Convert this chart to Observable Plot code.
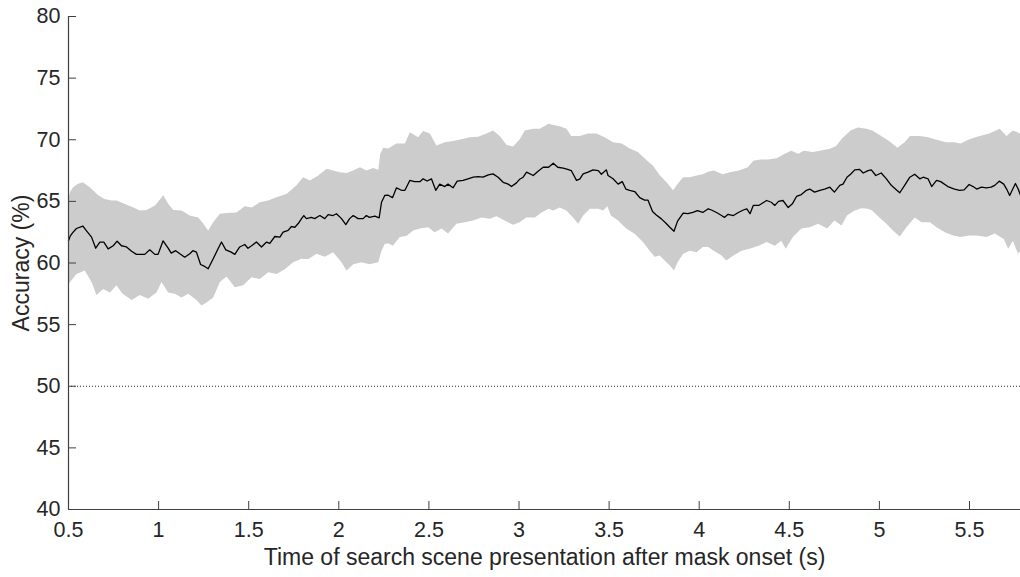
<!DOCTYPE html>
<html>
<head>
<meta charset="utf-8">
<script src="https://cdn.jsdelivr.net/npm/d3@7"></script>
<script src="https://cdn.jsdelivr.net/npm/@observablehq/plot@0.6"></script>
<style>
  html, body { margin: 0; padding: 0; background: #fff; }
  #chart svg { display: block; }
</style>
</head>
<body>
<div id="chart"></div>
<script>
const xTicks = [0.5, 1, 1.5, 2, 2.5, 3, 3.5, 4, 4.5, 5, 5.5];
const yTicks = [40, 45, 50, 55, 60, 65, 70, 75, 80];
const xLabel = "Time of search scene presentation after mask onset (s)";
const yLabel = "Accuracy (%)";
const chanceLevel = [50];

const meanT = [0.5,0.51,0.526,0.544,0.58,0.60,0.628,0.651,0.674,0.696,0.72,0.748,0.77,0.794,0.822,0.85,0.877,0.923,0.951,0.979,0.997,1.025,1.053,1.07,1.095,1.118,1.145,1.173,1.19,1.21,1.233,1.256,1.275,1.303,1.33,1.349,1.373,1.40,1.423,1.45,1.478,1.496,1.516,1.543,1.571,1.599,1.617,1.645,1.673,1.691,1.719,1.737,1.756,1.775,1.793,1.806,1.82,1.848,1.866,1.895,1.922,1.941,1.968,1.987,2.015,2.039,2.06,2.08,2.107,2.135,2.153,2.17,2.20,2.224,2.237,2.255,2.274,2.298,2.32,2.348,2.367,2.394,2.42,2.45,2.468,2.49,2.514,2.538,2.56,2.588,2.606,2.634,2.657,2.69,2.717,2.746,2.773,2.8,2.83,2.856,2.884,2.912,2.94,2.958,2.986,3.004,3.023,3.042,3.079,3.106,3.134,3.164,3.19,3.215,3.245,3.27,3.29,3.319,3.337,3.356,3.383,3.411,3.44,3.457,3.485,3.494,3.522,3.55,3.573,3.593,3.614,3.642,3.67,3.697,3.716,3.741,3.762,3.79,3.817,3.837,3.86,3.88,3.911,3.937,3.965,3.99,4.02,4.05,4.068,4.096,4.124,4.14,4.16,4.19,4.217,4.245,4.264,4.282,4.30,4.33,4.35,4.374,4.40,4.42,4.44,4.465,4.494,4.517,4.54,4.567,4.595,4.613,4.64,4.67,4.696,4.725,4.75,4.78,4.798,4.82,4.84,4.863,4.89,4.91,4.937,4.955,4.98,5.01,5.039,5.066,5.095,5.113,5.14,5.169,5.196,5.224,5.243,5.27,5.29,5.317,5.34,5.38,5.417,5.445,5.47,5.498,5.52,5.54,5.566,5.594,5.62,5.64,5.665,5.69,5.706,5.723,5.74,5.755,5.77,5.783];
const meanAcc = [61.8,62.2,62.5,62.8,63.0,62.6,62.1,61.2,61.7,61.7,61.15,61.4,61.77,61.4,61.3,60.96,60.7,60.7,61.07,60.7,60.7,61.8,61.2,60.8,61.0,60.75,60.47,60.75,61.0,60.88,59.88,59.72,59.53,60.34,61.15,61.7,61.07,60.9,60.7,61.3,61.5,61.2,61.4,61.7,61.3,61.7,61.6,62.15,62.1,62.5,62.64,62.96,62.9,63.2,63.6,63.85,63.6,63.7,63.6,63.85,63.6,63.93,63.85,64.0,63.6,63.12,63.6,63.85,63.6,63.6,63.85,63.7,63.8,63.67,64.93,65.48,65.5,65.3,66.1,65.9,65.9,66.7,66.6,66.6,66.83,66.65,66.83,65.9,66.4,66.2,66.4,66.1,66.64,66.7,66.83,66.96,67.0,66.96,67.15,67.23,66.96,66.55,66.4,66.2,66.5,66.8,66.96,67.37,67.1,67.45,67.77,67.77,68.1,67.77,67.7,67.6,67.5,66.7,66.8,67.23,67.37,67.56,67.5,67.2,67.56,67.1,66.83,66.4,66.6,66.0,65.9,65.8,65.3,65.1,65.1,64.18,63.9,63.58,63.2,62.9,62.58,63.4,64.04,64.0,64.1,64.25,64.1,64.4,64.3,64.1,63.85,63.7,63.95,63.85,64.1,64.3,64.4,64.0,64.67,64.67,64.85,65.07,64.93,64.67,65.0,65.07,64.5,64.8,65.4,65.55,65.9,66.0,65.75,65.9,66.0,66.15,65.75,66.3,66.4,66.96,67.2,67.56,67.6,67.3,67.5,67.56,67.1,67.3,66.83,66.3,65.93,65.7,66.3,66.96,67.2,66.83,66.96,66.83,66.2,66.7,66.6,66.2,66.0,65.9,65.93,66.37,66.2,66.0,66.15,66.1,66.15,66.3,66.64,66.4,66.0,65.48,66.0,66.45,66.0,65.5];

const upperT = [0.5,0.51,0.526,0.55,0.58,0.618,0.665,0.70,0.739,0.766,0.81,0.86,0.896,0.933,0.98,1.026,1.053,1.081,1.127,1.173,1.22,1.247,1.275,1.303,1.34,1.377,1.432,1.478,1.516,1.562,1.608,1.654,1.71,1.765,1.802,1.84,1.886,1.932,1.968,2.006,2.043,2.08,2.117,2.153,2.19,2.219,2.23,2.246,2.274,2.32,2.367,2.394,2.44,2.468,2.505,2.542,2.588,2.634,2.68,2.727,2.773,2.82,2.856,2.893,2.93,2.967,3.004,3.032,3.079,3.115,3.164,3.19,3.226,3.263,3.29,3.337,3.383,3.43,3.475,3.522,3.57,3.614,3.66,3.707,3.744,3.78,3.818,3.855,3.88,3.911,3.948,3.985,4.02,4.05,4.08,4.13,4.17,4.22,4.27,4.30,4.34,4.38,4.43,4.475,4.51,4.55,4.58,4.63,4.67,4.725,4.76,4.79,4.84,4.88,4.928,4.96,5.01,5.054,5.1,5.14,5.17,5.224,5.27,5.317,5.37,5.417,5.45,5.5,5.556,5.61,5.668,5.705,5.74,5.783];
const upperAcc = [65.3,65.8,66.15,66.4,66.55,66.15,65.5,65.2,65.07,65.07,64.8,64.5,64.26,64.3,64.67,65.5,64.8,64.3,64.26,63.85,63.7,63.2,62.64,63.3,64.0,64.05,64.1,64.6,64.5,64.93,65.07,65.34,65.6,66.3,66.96,66.7,67.1,67.64,67.5,67.37,67.3,67.5,67.77,67.5,67.7,67.56,68.86,69.35,69.3,69.7,69.7,70.6,70.2,70.7,70.5,69.53,69.8,69.9,70.05,70.2,70.25,70.5,70.75,70.3,69.6,69.45,70.05,70.75,70.9,70.9,71.3,71.2,71.1,70.9,70.3,70.3,70.5,70.5,70.2,69.8,69.7,69.3,69.0,68.35,67.9,67.15,66.55,65.9,66.4,66.96,66.96,67.1,67.2,67.4,67.5,67.2,67.37,67.5,67.77,68.3,68.4,68.4,68.5,68.86,69.1,68.86,69.1,69.0,69.1,69.26,69.5,70.07,70.75,71.0,70.9,70.75,70.3,69.9,69.35,69.8,70.3,70.3,70.2,70.0,69.8,69.8,69.7,70.05,70.3,70.5,70.9,70.3,70.75,70.5];

const lowerT = [0.5,0.544,0.59,0.628,0.655,0.692,0.73,0.766,0.80,0.85,0.896,0.942,0.988,1.016,1.053,1.09,1.127,1.164,1.21,1.238,1.266,1.303,1.34,1.377,1.423,1.469,1.516,1.562,1.608,1.654,1.70,1.747,1.793,1.83,1.876,1.922,1.968,2.015,2.043,2.08,2.126,2.17,2.219,2.237,2.255,2.274,2.30,2.338,2.375,2.413,2.45,2.495,2.533,2.57,2.606,2.653,2.699,2.745,2.792,2.838,2.875,2.921,2.967,3.004,3.04,3.088,3.125,3.164,3.19,3.226,3.263,3.30,3.328,3.356,3.393,3.44,3.467,3.49,3.51,3.55,3.595,3.642,3.688,3.725,3.753,3.78,3.808,3.837,3.86,3.88,3.911,3.948,3.985,4.02,4.05,4.08,4.124,4.15,4.19,4.235,4.28,4.33,4.374,4.42,4.455,4.48,4.52,4.567,4.613,4.66,4.71,4.75,4.79,4.82,4.863,4.90,4.937,4.96,5.0,5.039,5.075,5.113,5.15,5.196,5.233,5.28,5.317,5.363,5.41,5.45,5.5,5.54,5.594,5.64,5.69,5.715,5.74,5.77,5.783];
const lowerAcc = [58.3,59.1,59.4,58.45,57.4,57.9,57.6,58.2,57.5,57.0,57.4,57.1,57.6,58.45,57.6,57.5,57.2,57.5,57.0,56.55,56.8,57.2,58.45,58.9,58.04,58.2,58.85,58.7,59.25,59.1,59.5,60.07,60.34,60.3,60.75,60.5,60.88,60.07,59.4,59.9,60.07,59.9,60.07,61.0,61.55,61.6,61.4,62.1,62.2,62.64,62.8,62.9,62.5,62.8,62.4,63.18,63.3,63.45,63.7,63.6,63.8,63.45,63.1,63.3,63.7,63.7,64.1,64.4,64.25,64.5,64.25,63.7,63.18,63.85,64.4,64.4,64.25,64.6,63.85,63.45,62.8,62.37,61.7,61.0,60.5,60.6,60.2,59.8,59.4,60.07,60.75,61.0,60.88,61.3,61.3,61.0,60.6,60.2,60.6,61.0,61.15,61.4,61.7,61.4,61.8,61.15,62.1,62.8,62.9,63.18,62.8,63.45,63.05,63.85,64.25,64.45,64.4,64.25,63.7,63.18,62.64,62.15,62.9,63.7,63.3,63.3,62.9,62.5,62.24,62.1,62.24,62.24,62.1,62.4,61.95,61.15,61.8,60.75,61.0];

const meanData = meanT.map((t, i) => ({t, acc: meanAcc[i]}));
const bandPoly = [
  ...upperT.map((t, i) => ({t, acc: upperAcc[i]})),
  ...lowerT.map((t, i) => ({t, acc: lowerAcc[i]})).reverse()
];

const W = 1020, H = 577;
const mL = 68, mR = 0, mT = 16, mB = 68;
const innerW = W - mL - mR, innerH = H - mT - mB;
const tickLen = 8;
const axisColor = "#404040";
const textColor = "#262626";

const chart = Plot.plot({
  width: W,
  height: H,
  marginLeft: mL,
  marginRight: mR,
  marginTop: mT,
  marginBottom: mB,
  style: {fontFamily: "'Liberation Sans', Arial, Helvetica, sans-serif", color: textColor, background: "#fff"},
  x: {domain: [0.5, 5.783], label: null},
  y: {domain: [40, 80], label: null},
  marks: [
    Plot.line(bandPoly, {x: "t", y: "acc", fill: "#cccccc", stroke: "none", curve: "linear"}),
    Plot.ruleY(chanceLevel, {stroke: "#222", strokeWidth: 1, strokeDasharray: "1,2"}),
    Plot.line(meanData, {x: "t", y: "acc", stroke: "#000", strokeWidth: 1.3}),
    // inward ticks
    Plot.ruleX(xTicks, {x: d => d, stroke: axisColor, strokeWidth: 1, insetTop: innerH - tickLen}),
    Plot.ruleY(yTicks, {y: d => d, stroke: axisColor, strokeWidth: 1, insetRight: innerW - tickLen}),
    // axis lines
    Plot.ruleX([0.5], {stroke: axisColor, strokeWidth: 1.2}),
    Plot.ruleY([40], {stroke: axisColor, strokeWidth: 1.2}),
    Plot.axisX({ticks: xTicks, tickSize: 0, tickPadding: 12, fontSize: 21.5, tickFormat: d => String(d), label: null, fill: textColor}),
    Plot.axisY({ticks: yTicks, tickSize: 0, tickPadding: 8, fontSize: 21.5, tickFormat: d => String(d), label: null, fill: textColor}),
    Plot.text([xLabel], {text: d => d, frameAnchor: "bottom", dy: 48, fontSize: 23, fill: textColor, lineAnchor: "middle", textAnchor: "middle"}),
    Plot.text([yLabel], {text: d => d, frameAnchor: "left", dx: -47, rotate: -90, fontSize: 23, fill: textColor, lineAnchor: "middle", textAnchor: "middle"})
  ]
});
document.getElementById("chart").appendChild(chart);
</script>
</body>
</html>
